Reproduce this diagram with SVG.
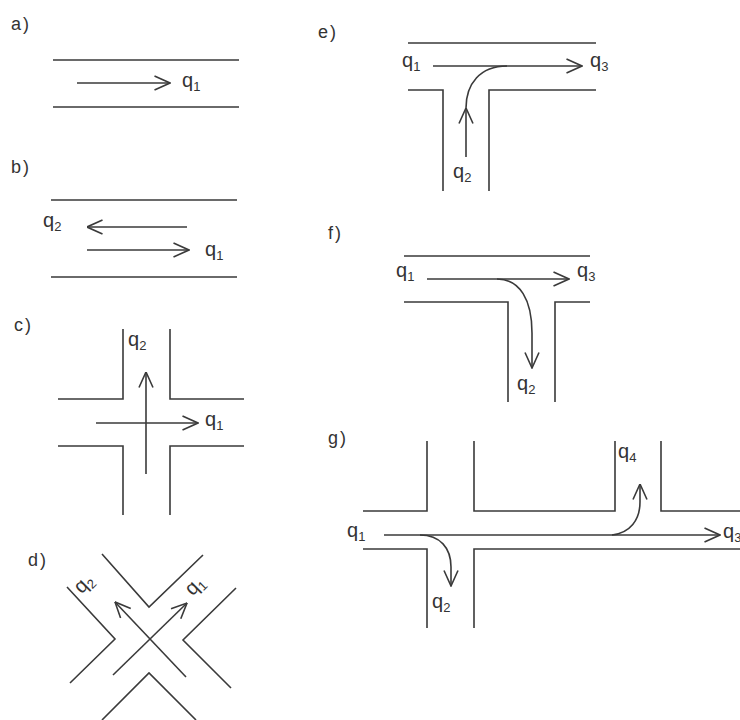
<svg xmlns="http://www.w3.org/2000/svg" width="740" height="720" viewBox="0 0 740 720">
<defs>
<style>
.road{fill:none;stroke:#3a3a3a;stroke-width:1.6;stroke-linecap:butt;stroke-linejoin:miter}
.flow{fill:none;stroke:#3a3a3a;stroke-width:1.6}
.arr{marker-end:url(#ah)}
text{font-family:"Liberation Sans",Arial,sans-serif;fill:#333}
.lbl{font-size:18px;letter-spacing:2px}
.q{font-size:20px}
.s{font-size:13px}
</style>
<marker id="ah" viewBox="0 0 17 16" refX="16.5" refY="8" markerWidth="17" markerHeight="16" markerUnits="userSpaceOnUse" orient="auto">
<path d="M1,1 L16.5,8 L1,15" fill="none" stroke="#3a3a3a" stroke-width="1.6"/>
</marker>
</defs>
<rect width="740" height="720" fill="#fff"/>

<g id="panel-a">
<text class="lbl" x="11" y="30">a)</text>
<path class="road" d="M53,60 H239 M53,107 H239"/>
<text class="q" x="182" y="87">q<tspan class="s" dy="4">1</tspan></text>
</g>

<g id="panel-b">
<text class="lbl" x="11" y="173">b)</text>
<path class="road" d="M51,200 H237 M51,277 H237"/>
<text class="q" x="43" y="227">q<tspan class="s" dy="4">2</tspan></text>
<text class="q" x="205" y="256">q<tspan class="s" dy="4">1</tspan></text>
</g>

<g id="panel-c">
<text class="lbl" x="14" y="331">c)</text>
<path class="road" d="M58,399 H123 V329 M170,329 V399 H244 M58,446 H123 V515 M170,515 V446 H244"/>
<text class="q" x="128" y="346">q<tspan class="s" dy="4">2</tspan></text>
<text class="q" x="205" y="426">q<tspan class="s" dy="4">1</tspan></text>
</g>

<g id="panel-d">
<text class="lbl" x="28" y="566">d)</text>
<path class="road" d="M102,554 L149,607 L203,555 M67,587 L115,639 L70,683 M236,588 L183,640 L231,688 M102,720 L149,673 L196,720"/>
<text class="q" text-anchor="middle" transform="translate(88,588) rotate(-45)">q<tspan class="s" dy="4">2</tspan></text>
<text class="q" text-anchor="middle" transform="translate(199,590) rotate(-45)">q<tspan class="s" dy="4">1</tspan></text>
</g>

<g id="panel-e">
<text class="lbl" x="318" y="38">e)</text>
<path class="road" d="M408,43 H596 M408,90 H443 V191 M489,191 V90 H596"/>
<text class="q" x="402" y="67">q<tspan class="s" dy="4">1</tspan></text>
<text class="q" x="590" y="67">q<tspan class="s" dy="4">3</tspan></text>
<text class="q" x="453" y="178">q<tspan class="s" dy="4">2</tspan></text>
</g>

<g id="panel-f">
<text class="lbl" x="328" y="239">f)</text>
<path class="road" d="M404,256 H590 M404,302 H508 V402 M555,402 V302 H590"/>
<text class="q" x="396" y="277">q<tspan class="s" dy="4">1</tspan></text>
<text class="q" x="577" y="277">q<tspan class="s" dy="4">3</tspan></text>
<text class="q" x="517" y="390">q<tspan class="s" dy="4">2</tspan></text>
</g>

<g id="panel-g">
<text class="lbl" x="328" y="444">g)</text>
<path class="road" d="M363,511 H427 V441 M474,441 V511 H615 V441 M661,441 V511 H740 M363,549 H427 V628 M474,628 V549 H740"/>
<text class="q" x="347" y="537">q<tspan class="s" dy="4">1</tspan></text>
<text class="q" x="618" y="458">q<tspan class="s" dy="4">4</tspan></text>
<text class="q" x="432" y="608">q<tspan class="s" dy="4">2</tspan></text>
<text class="q" x="723" y="538">q<tspan class="s" dy="4">3</tspan></text>
</g>

<g id="connectors">
<path class="flow arr" d="M77,83 H170"/>
<path class="flow arr" d="M187,227 H87"/>
<path class="flow arr" d="M87,250 H189"/>
<path class="flow arr" d="M96,423 H198"/>
<path class="flow arr" d="M146,474 V372"/>
<path class="flow arr" d="M113,675 L187,603"/>
<path class="flow arr" d="M186,677 L115,602"/>
<path class="flow arr" d="M433,66 H582"/>
<path class="flow arr" d="M466,157 V108"/>
<path class="flow" d="M466,108 C466,84 480,66 507,66"/>
<path class="flow arr" d="M427,279 H569"/>
<path class="flow arr" d="M497,279 C520,279 532,300 532,333 V368"/>
<path class="flow arr" d="M384,535 H720"/>
<path class="flow arr" d="M420,535 C440,535 451,548 451,567 V586"/>
<path class="flow arr" d="M612,535 C630,533 640,520 640,502 V484"/>
</g>
</svg>
